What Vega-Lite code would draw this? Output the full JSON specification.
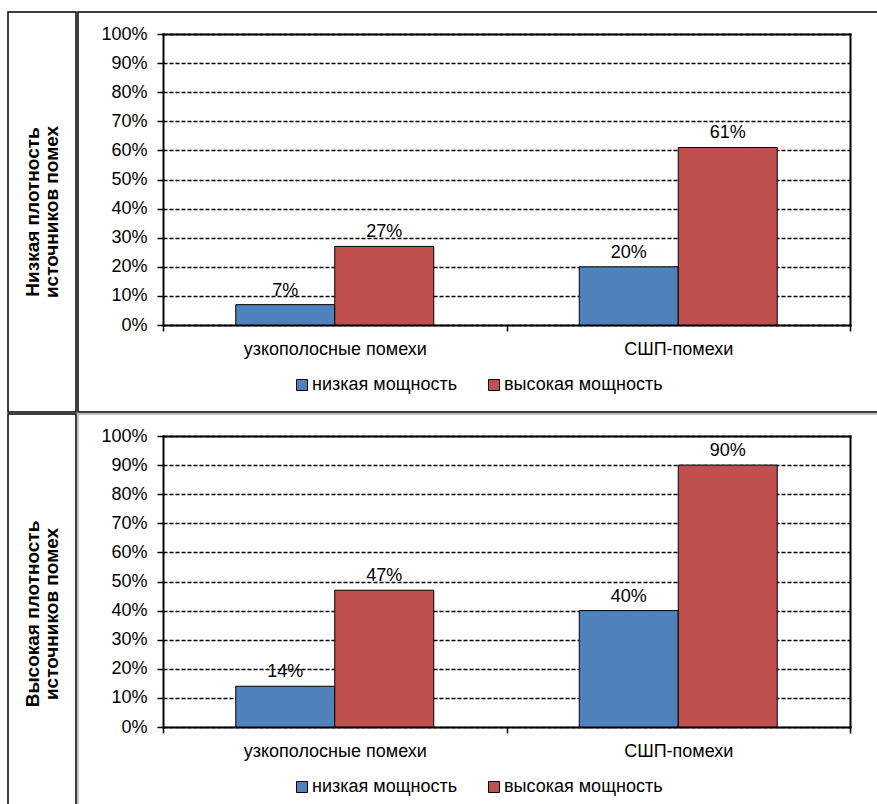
{
  "$schema": "https://vega.github.io/schema/vega-lite/v6.json",
  "padding": {"left": 7, "top": 11, "right": 0, "bottom": 0},
  "background": "white",
  "config": {
    "font": "Liberation Sans",
    "view": {"stroke": "black", "strokeWidth": 1.5},
    "concat": {"spacing": 0},
    "text": {"font": "Liberation Sans"}
  },
  "datasets": {
    "bars": [
      {"row": "low", "category": "узкополосные помехи", "series": "низкая мощность", "value": 0.07},
      {"row": "low", "category": "узкополосные помехи", "series": "высокая мощность", "value": 0.27},
      {"row": "low", "category": "СШП-помехи", "series": "низкая мощность", "value": 0.20},
      {"row": "low", "category": "СШП-помехи", "series": "высокая мощность", "value": 0.61},
      {"row": "high", "category": "узкополосные помехи", "series": "низкая мощность", "value": 0.14},
      {"row": "high", "category": "узкополосные помехи", "series": "высокая мощность", "value": 0.47},
      {"row": "high", "category": "СШП-помехи", "series": "низкая мощность", "value": 0.40},
      {"row": "high", "category": "СШП-помехи", "series": "высокая мощность", "value": 0.90}
    ],
    "labels": [
      {"row": "low", "label": "Низкая плотность\nисточников помех"},
      {"row": "high", "label": "Высокая плотность\nисточников помех"}
    ]
  },
  "resolve": {"scale": {"color": "independent"}, "legend": {"color": "independent"}},
  "spacing": 0,
  "vconcat": [
    {
      "spacing": 0,
      "resolve": {"scale": {"color": "independent"}, "legend": {"color": "independent"}},
      "hconcat": [
        {
          "width": 68, "height": 400,
          "view": {"stroke": "black", "strokeWidth": 1.5},
          "data": {"name": "labels"},
          "transform": [{"filter": "datum.row == 'low'"}],
          "mark": {"type": "text", "angle": 270, "fontWeight": "bold", "fontSize": 19, "lineBreak": "\n", "lineHeight": 19, "dy": -9, "align": "center", "baseline": "middle", "color": "black"},
          "encoding": {"text": {"field": "label", "type": "nominal"}}
        },
        {
          "width": 802, "height": 400,
          "view": {"stroke": "black", "strokeWidth": 1.5},
          "data": {"name": "bars"},
          "transform": [{"filter": "datum.row == 'low'"}],
          "resolve": {"axis": {"x": "independent", "y": "independent"}},
          "layer": [
            {
              "mark": {"type": "bar", "stroke": "black", "strokeWidth": 1},
              "encoding": {
                "x": {"field": "category", "type": "nominal", "sort": ["узкополосные помехи", "СШП-помехи"],
                  "scale": {"range": [85, 772], "paddingInner": 0, "paddingOuter": 0},
                  "axis": {"orient": "bottom", "offset": -87, "title": null, "labelAngle": 0, "labelFontSize": 18, "labelLimit": 400, "labelColor": "black", "labelPadding": 9, "tickBand": "extent", "tickSize": 6, "tickColor": "black", "tickWidth": 1.5, "domainColor": "black", "domainWidth": 2, "domainCap": "square", "grid": false}},
                "xOffset": {"field": "series", "type": "nominal", "sort": ["низкая мощность", "высокая мощность"], "scale": {"paddingInner": 0, "paddingOuter": 0.735}},
                "y": {"field": "value", "type": "quantitative",
                  "scale": {"domain": [0, 1], "range": [313, 22]},
                  "axis": {"orient": "left", "offset": -85, "title": null, "values": [0, 0.1, 0.2, 0.3, 0.4, 0.5, 0.6, 0.7, 0.8, 0.9, 1], "format": ".0%", "labelFontSize": 18, "labelColor": "black", "labelPadding": 10, "tickSize": 6, "tickColor": "black", "tickWidth": 1.5, "domainColor": "black", "domainWidth": 2, "domainCap": "square", "grid": true, "gridColor": "black", "gridDash": [4, 2], "gridWidth": 1.3, "gridOpacity": 1}},
                "color": {"field": "series", "type": "nominal", "sort": ["низкая мощность", "высокая мощность"],
                  "scale": {"domain": ["низкая мощность", "высокая мощность"], "range": ["#4F81BD", "#C0504D"]},
                  "legend": {"orient": "none", "legendX": 215, "legendY": 364, "padding": 0, "direction": "horizontal", "title": null, "symbolType": "square", "symbolSize": 121, "symbolStrokeColor": "black", "symbolStrokeWidth": 1, "symbolOpacity": 1, "labelFontSize": 18, "labelColor": "black", "labelOffset": 1, "columnPadding": 27, "labelLimit": 300}}
              }
            },
            {
              "mark": {"type": "text", "dy": -9, "baseline": "alphabetic", "fontSize": 18, "color": "black"},
              "encoding": {
                "x": {"field": "category", "type": "nominal", "sort": ["узкополосные помехи", "СШП-помехи"],
                  "axis": {"orient": "top", "offset": -22, "title": null, "labels": false, "ticks": false, "grid": false, "domainColor": "black", "domainWidth": 2, "domainCap": "square"}},
                "xOffset": {"field": "series", "type": "nominal", "sort": ["низкая мощность", "высокая мощность"]},
                "y": {"field": "value", "type": "quantitative",
                  "axis": {"orient": "right", "offset": -30, "title": null, "labels": false, "ticks": false, "grid": false, "domainColor": "black", "domainWidth": 2, "domainCap": "square"}},
                "text": {"field": "value", "type": "quantitative", "format": ".0%"}
              }
            }
          ]
        }
      ]
    },
    {
      "spacing": 0,
      "resolve": {"scale": {"color": "independent"}, "legend": {"color": "independent"}},
      "hconcat": [
        {
          "width": 68, "height": 400,
          "view": {"stroke": "black", "strokeWidth": 1.5},
          "data": {"name": "labels"},
          "transform": [{"filter": "datum.row == 'high'"}],
          "mark": {"type": "text", "angle": 270, "fontWeight": "bold", "fontSize": 19, "lineBreak": "\n", "lineHeight": 19, "dy": -9, "align": "center", "baseline": "middle", "color": "black"},
          "encoding": {"text": {"field": "label", "type": "nominal"}}
        },
        {
          "width": 802, "height": 400,
          "view": {"stroke": "#b0b0b0", "strokeWidth": 1.5},
          "data": {"name": "bars"},
          "transform": [{"filter": "datum.row == 'high'"}],
          "resolve": {"axis": {"x": "independent", "y": "independent"}},
          "layer": [
            {
              "mark": {"type": "bar", "stroke": "black", "strokeWidth": 1},
              "encoding": {
                "x": {"field": "category", "type": "nominal", "sort": ["узкополосные помехи", "СШП-помехи"],
                  "scale": {"range": [85, 772], "paddingInner": 0, "paddingOuter": 0},
                  "axis": {"orient": "bottom", "offset": -87, "title": null, "labelAngle": 0, "labelFontSize": 18, "labelLimit": 400, "labelColor": "black", "labelPadding": 9, "tickBand": "extent", "tickSize": 6, "tickColor": "black", "tickWidth": 1.5, "domainColor": "black", "domainWidth": 2, "domainCap": "square", "grid": false}},
                "xOffset": {"field": "series", "type": "nominal", "sort": ["низкая мощность", "высокая мощность"], "scale": {"paddingInner": 0, "paddingOuter": 0.735}},
                "y": {"field": "value", "type": "quantitative",
                  "scale": {"domain": [0, 1], "range": [313, 22]},
                  "axis": {"orient": "left", "offset": -85, "title": null, "values": [0, 0.1, 0.2, 0.3, 0.4, 0.5, 0.6, 0.7, 0.8, 0.9, 1], "format": ".0%", "labelFontSize": 18, "labelColor": "black", "labelPadding": 10, "tickSize": 6, "tickColor": "black", "tickWidth": 1.5, "domainColor": "black", "domainWidth": 2, "domainCap": "square", "grid": true, "gridColor": "black", "gridDash": [4, 2], "gridWidth": 1.3, "gridOpacity": 1}},
                "color": {"field": "series", "type": "nominal", "sort": ["низкая мощность", "высокая мощность"],
                  "scale": {"domain": ["низкая мощность", "высокая мощность"], "range": ["#4F81BD", "#C0504D"]},
                  "legend": {"orient": "none", "legendX": 215, "legendY": 364, "padding": 0, "direction": "horizontal", "title": null, "symbolType": "square", "symbolSize": 121, "symbolStrokeColor": "black", "symbolStrokeWidth": 1, "symbolOpacity": 1, "labelFontSize": 18, "labelColor": "black", "labelOffset": 1, "columnPadding": 27, "labelLimit": 300}}
              }
            },
            {
              "mark": {"type": "text", "dy": -9, "baseline": "alphabetic", "fontSize": 18, "color": "black"},
              "encoding": {
                "x": {"field": "category", "type": "nominal", "sort": ["узкополосные помехи", "СШП-помехи"],
                  "axis": {"orient": "top", "offset": -22, "title": null, "labels": false, "ticks": false, "grid": false, "domainColor": "black", "domainWidth": 2, "domainCap": "square"}},
                "xOffset": {"field": "series", "type": "nominal", "sort": ["низкая мощность", "высокая мощность"]},
                "y": {"field": "value", "type": "quantitative",
                  "axis": {"orient": "right", "offset": -30, "title": null, "labels": false, "ticks": false, "grid": false, "domainColor": "black", "domainWidth": 2, "domainCap": "square"}},
                "text": {"field": "value", "type": "quantitative", "format": ".0%"}
              }
            }
          ]
        }
      ]
    }
  ]
}
